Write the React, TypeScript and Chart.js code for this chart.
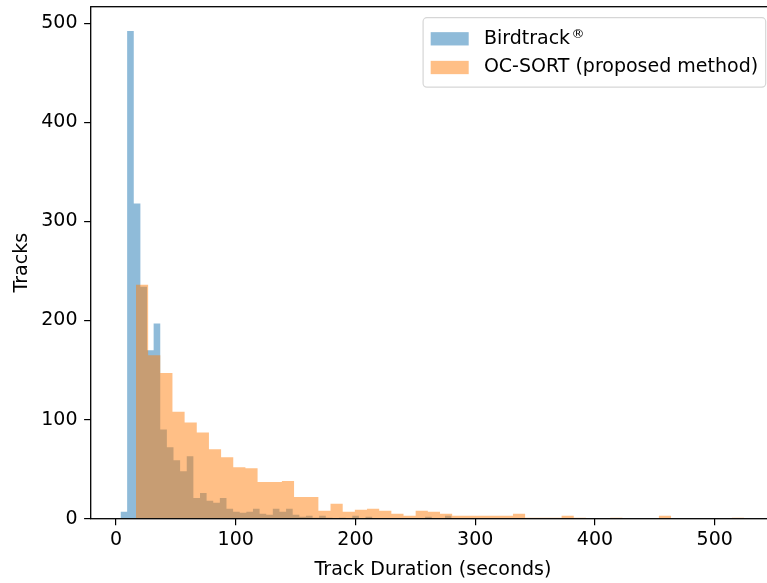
import React, { useEffect, useRef } from 'react';
import { Chart, registerables } from 'chart.js';

Chart.register(...registerables);

// Birdtrack® track durations: 50 equal-width bins (seconds)
const BIRD_START = 3.8;
const BIRD_WIDTH = 5.53;
const BIRD_COUNTS = [
  7, 492, 318, 234, 170, 197, 90, 72, 59, 48,
  63, 21, 26, 18, 16, 21, 10, 7, 6, 7,
  10, 5, 4, 10, 7, 10, 4, 2, 3, 1,
  3, 1, 0, 1, 0, 3, 0, 2, 0, 0,
  0, 0, 0, 0, 0, 0, 2, 0, 0, 3,
];

// OC-SORT track durations: 50 equal-width bins (seconds)
const OCSORT_START = 16.7;
const OCSORT_WIDTH = 10.155;
const OCSORT_COUNTS = [
  236, 165, 147, 108, 97, 87, 70, 62, 52, 51,
  37, 37, 38, 22, 22, 8, 15, 7, 9, 10,
  8, 5, 3, 8, 7, 5, 3, 3, 3, 3,
  3, 5, 1, 1, 1, 3, 1, 0, 0, 1,
  0, 0, 0, 3, 0, 0, 0, 0, 0, 1,
];

const X_TICKS = [0, 100, 200, 300, 400, 500];
const Y_TICKS = [0, 100, 200, 300, 400, 500];
const X_MIN = -21.1;
const X_MAX = 550.5;
const Y_MAX = 516.6;

const SERIES_LABELS = ['Birdtrack', 'OC-SORT (proposed method)'];
const BIRD_SUP = '®';

const BIRD_COLOR = 'rgba(31, 119, 180, 0.5)';
const OCSORT_COLOR = 'rgba(255, 127, 14, 0.5)';
const FONT = '"DejaVu Sans", "Liberation Sans", sans-serif';
const FS = 19;

// Histogram outline as stepped points: one point per bin's left edge,
// closed by a zero point at the right edge of the last bin.
function histPoints(start: number, width: number, counts: number[]) {
  const pts = counts.map((c, i) => ({ x: start + i * width, y: c }));
  pts.push({ x: start + counts.length * width, y: 0 });
  return pts;
}

const frameAndLegend = {
  id: 'frameAndLegend',
  afterDatasetsDraw(chart: any) {
    const { ctx, chartArea: a } = chart;
    ctx.save();

    // axes frame (all four spines)
    ctx.strokeStyle = '#000';
    ctx.lineWidth = 1.3;
    ctx.strokeRect(a.left, a.top, a.right - a.left, a.bottom - a.top);

    // legend, upper right inside the axes
    const items = [
      { text: SERIES_LABELS[0], sup: BIRD_SUP, color: BIRD_COLOR },
      { text: SERIES_LABELS[1], sup: '', color: OCSORT_COLOR },
    ];
    const supFont = `${Math.round(FS * 0.7)}px ${FONT}`;
    const mainFont = `${FS}px ${FONT}`;
    const widths = items.map((it) => {
      ctx.font = mainFont;
      let w = ctx.measureText(it.text).width;
      if (it.sup) {
        ctx.font = supFont;
        w += 1 + ctx.measureText(it.sup).width;
      }
      return w;
    });
    const pad = 0.4 * FS;
    const handle = 2.0 * FS;
    const handlePad = 0.8 * FS;
    const boxW = pad + handle + handlePad + Math.max(...widths) + pad;
    const boxH = 3.65 * FS;
    const right = a.right - 0.5 * FS;
    const top = a.top + 0.58 * FS;
    const left = right - boxW;

    const r = 0.2 * FS;
    ctx.beginPath();
    ctx.moveTo(left + r, top);
    ctx.lineTo(right - r, top);
    ctx.arcTo(right, top, right, top + r, r);
    ctx.lineTo(right, top + boxH - r);
    ctx.arcTo(right, top + boxH, right - r, top + boxH, r);
    ctx.lineTo(left + r, top + boxH);
    ctx.arcTo(left, top + boxH, left, top + boxH - r, r);
    ctx.lineTo(left, top + r);
    ctx.arcTo(left, top, left + r, top, r);
    ctx.closePath();
    ctx.fillStyle = 'rgba(255,255,255,0.8)';
    ctx.fill();
    ctx.strokeStyle = 'rgba(204,204,204,0.8)';
    ctx.lineWidth = 1.2;
    ctx.stroke();

    items.forEach((it, i) => {
      const cy = top + 1.11 * FS + i * 1.51 * FS;
      ctx.fillStyle = it.color;
      ctx.fillRect(left + pad, cy - 0.35 * FS, handle, 0.7 * FS);
      const tx = left + pad + handle + handlePad;
      ctx.fillStyle = '#000';
      ctx.font = mainFont;
      ctx.textAlign = 'left';
      ctx.textBaseline = 'middle';
      ctx.fillText(it.text, tx, cy);
      if (it.sup) {
        const w = ctx.measureText(it.text).width;
        ctx.font = supFont;
        ctx.textBaseline = 'alphabetic';
        ctx.fillText(it.sup, tx + w + 1.5, cy - 0.02 * FS);
      }
    });

    ctx.restore();
  },
};

export default function App() {
  const canvasRef = useRef<HTMLCanvasElement | null>(null);

  useEffect(() => {
    const canvas = canvasRef.current;
    if (!canvas) return;

    const chart = new Chart(canvas, {
      type: 'line',
      data: {
        datasets: [
          {
            label: SERIES_LABELS[1],
            data: histPoints(OCSORT_START, OCSORT_WIDTH, OCSORT_COUNTS),
            backgroundColor: OCSORT_COLOR,
            borderColor: 'rgba(0,0,0,0)',
            borderWidth: 0,
            pointRadius: 0,
            stepped: 'before',
            fill: 'origin',
            order: 0,
          },
          {
            label: SERIES_LABELS[0],
            data: histPoints(BIRD_START, BIRD_WIDTH, BIRD_COUNTS),
            backgroundColor: BIRD_COLOR,
            borderColor: 'rgba(0,0,0,0)',
            borderWidth: 0,
            pointRadius: 0,
            stepped: 'before',
            fill: 'origin',
            order: 1,
          },
        ],
      },
      options: {
        animation: false,
        responsive: false,
        devicePixelRatio: 1,
        layout: { padding: { left: 0, top: 6.7, right: 14.8, bottom: 0 } },
        plugins: {
          legend: { display: false },
          tooltip: { enabled: false },
        },
        scales: {
          x: {
            type: 'linear',
            min: X_MIN,
            max: X_MAX,
            afterBuildTicks: (s: any) => {
              s.ticks = X_TICKS.map((v) => ({ value: v }));
            },
            afterFit: (s: any) => {
              s.height = 64.3;
              s.paddingLeft = 0;
              s.paddingRight = 0;
            },
            grid: { drawOnChartArea: false, drawTicks: true, tickLength: 6.6, color: '#000', lineWidth: 1.2 },
            border: { display: false },
            ticks: {
              color: '#000',
              font: { family: FONT, size: FS },
              padding: 3,
              maxRotation: 0,
              autoSkip: false,
            },
            title: {
              display: true,
              text: 'Track Duration (seconds)',
              color: '#000',
              font: { family: FONT, size: FS },
              padding: { top: 0, bottom: 1.8 },
            },
          },
          y: {
            type: 'linear',
            min: 0,
            max: Y_MAX,
            afterBuildTicks: (s: any) => {
              s.ticks = Y_TICKS.map((v) => ({ value: v }));
            },
            afterFit: (s: any) => {
              s.width = 90.7;
              s.paddingTop = 0;
              s.paddingBottom = 0;
            },
            grid: { drawOnChartArea: false, drawTicks: true, tickLength: 6.6, color: '#000', lineWidth: 1.2 },
            border: { display: false },
            ticks: {
              color: '#000',
              font: { family: FONT, size: FS },
              padding: 6.6,
              autoSkip: false,
            },
            title: {
              display: true,
              text: 'Tracks',
              color: '#000',
              font: { family: FONT, size: FS },
              padding: { top: 11, bottom: 0 },
            },
          },
        },
      },
      plugins: [frameAndLegend],
    } as any);

    return () => chart.destroy();
  }, []);

  return (
    <div
      style={{
        position: 'fixed',
        left: 0,
        top: 0,
        width: 767,
        height: 583,
        overflow: 'hidden',
        background: '#fff',
      }}
    >
      <canvas ref={canvasRef} width={790} height={583} style={{ display: 'block', width: 790, height: 583 }} />
    </div>
  );
}
